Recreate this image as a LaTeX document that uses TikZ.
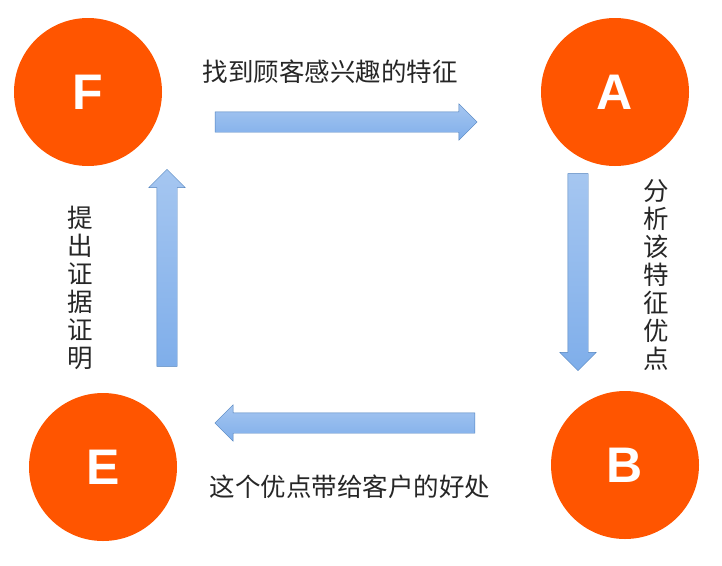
\documentclass[tikz,border=0pt]{standalone}
\usepackage{fontspec}
\setmainfont{Liberation Sans}
\newfontfamily\cjk{Noto Sans CJK SC}
\usetikzlibrary{shapes.arrows,positioning}
\definecolor{stepred}{HTML}{FF5500}
\definecolor{arrowblue}{HTML}{7FAEEA}
\definecolor{arrowedge}{HTML}{4F81BD}
\begin{document}
\begin{tikzpicture}[x=1pt,y=-1pt,
  stepdot/.style={circle,fill=stepred,minimum size=148pt,inner sep=0pt,
    text=white,font=\fontsize{50}{50}\selectfont\bfseries},
  blockarrow/.style={single arrow,draw=arrowedge,thin,
    top color=arrowblue!70,bottom color=arrowblue,
    minimum height=#1,minimum width=0pt,single arrow head extend=8pt,
    inner sep=10pt,single arrow tip angle=90},
  caption/.style={font=\cjk\fontsize{25.5}{28}\selectfont,text=black!85,align=center}]
\useasboundingbox (0,0) rectangle (722,565);

\node [stepdot] (F) at (88,92) {F};
\node [stepdot] (A) at (615,92) {A};
\node [stepdot] (E) at (103,467) {E};
\node [stepdot] (B) at (625,465) {B};

\node [blockarrow=262pt] (FA) at (341,122) {};
\node [blockarrow=197pt,rotate=-90] (AB) at (578,267) {};
\node [blockarrow=260pt,rotate=180] (BE) at (350,423) {};
\node [blockarrow=197pt,rotate=90] (EF) at (167,273) {};

\node [caption] (t1) at (330,72) {找到顾客感兴趣的特征};
\node [caption] (t2) at (656,275) {分\\析\\该\\特\\征\\优\\点};
\node [caption] (t3) at (350,487) {这个优点带给客户的好处};
\node [caption] (t4) at (80,288) {提\\出\\证\\据\\证\\明};
\end{tikzpicture}
\end{document}
